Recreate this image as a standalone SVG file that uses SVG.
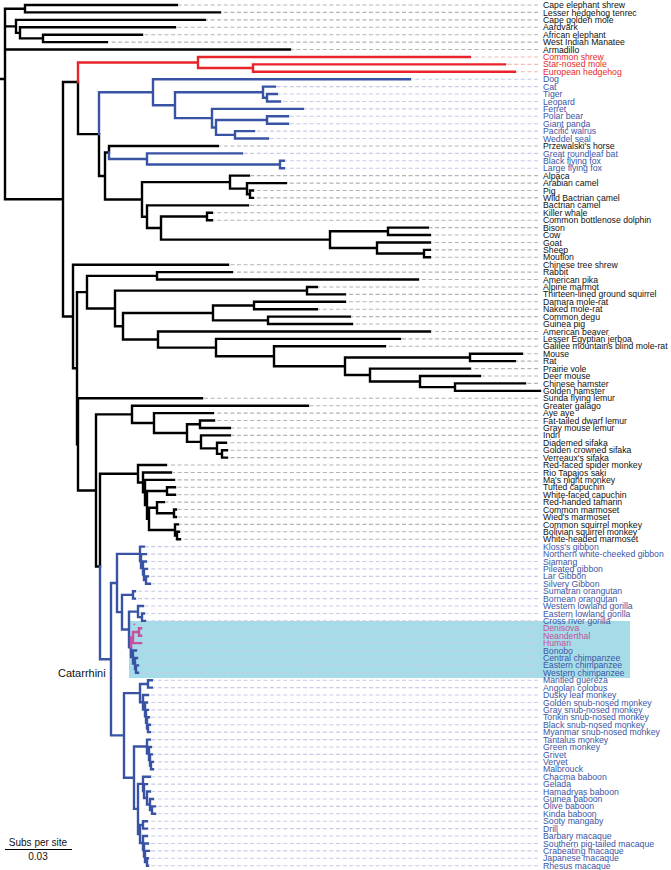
<svg xmlns="http://www.w3.org/2000/svg" width="671" height="870" viewBox="0 0 671 870">
<style>
text{font-family:"Liberation Sans",Arial,sans-serif}
.lb{font-size:8.7px}
.k{fill:#111}
.r{fill:#e32a2a}
.b{fill:#3d55a5}
.p{fill:#c2519b}
.br{fill:none;stroke-width:2.4;stroke-linecap:square}
.dash{fill:none;stroke-width:1.1;stroke-dasharray:4 2.6}
</style>
<rect id="highlight" x="129" y="621" width="501" height="57" fill="#a6dce7"/>
<g id="connectors">
<path class="dash" stroke="#b3b3b3" d="M538 5H179M538 12.42H222M538 19.84H207M538 27.26H177M538 34.68H144M538 42.1H109M538 49.52H292M538 145.98H220M538 175.66H251M538 183.08H288M538 190.5H255M538 197.92H255M538 205.34H250M538 212.76H214M538 220.18H214M538 227.6H430M538 235.02H432M538 242.44H432M538 249.86H432M538 257.28H432M538 264.7H230M538 272.12H234M538 279.54H420M538 286.96H319M538 294.38H347M538 301.8H347M538 309.22H319M538 316.64H352M538 324.06H354M538 331.48H432M538 338.9H402M538 346.32H387M538 353.74H524M538 361.16H517M538 368.58H472M538 376H482M538 383.42H527M538 398.26H204M538 405.68H310M538 413.1H215M538 420.52H216M538 427.94H232M538 435.36H232M538 442.78H228M538 450.2H229M538 457.62H229M538 465.04H168M538 472.46H173M538 479.88H176M538 487.3H177M538 494.72H177M538 502.14H166M538 509.56H178M538 516.98H178M538 524.4H180M538 531.82H181M538 539.24H182"/>
<path class="dash" stroke="#f4b8b8" d="M538 56.94H472M538 64.36H507M538 71.78H517"/>
<path class="dash" stroke="#c8cbe6" d="M538 79.2H412M538 86.62H277M538 94.04H279M538 101.46H282M538 108.88H305M538 116.3H290M538 123.72H290M538 131.14H256M538 138.56H270M538 153.4H244M538 160.82H286M538 168.24H286M538 546.66H146M538 554.08H148M538 561.5H148M538 568.92H149M538 576.34H150M538 583.76H152M538 591.18H137M538 598.6H137M538 606.02H145M538 613.44H146M538 620.86H147M538 628.28H143M538 635.7H143M538 643.12H143M538 650.54H138M538 657.96H139M538 665.38H140M538 672.8H140M538 680.22H154M538 687.64H154M538 695.06H150M538 702.48H149M538 709.9H150M538 717.32H151M538 724.74H152M538 732.16H152M538 739.58H152M538 747H153M538 754.42H154M538 761.84H155M538 769.26H155M538 776.68H152M538 784.1H149M538 791.52H152M538 798.94H155M538 806.36H157M538 813.78H157M538 821.2H149M538 828.62H149M538 836.04H149M538 843.46H150M538 850.88H151M538 858.3H150M538 865.72H150"/>
<path class="br" stroke="#000" d="M0 79H5M5 8.71V199.3M5 8.71H25M25 5V12.42M25 5H177M25 12.42H220M5 26.33H16M16 19.84V32.83M16 19.84H205M16 32.83H20M20 27.26V38.39M20 27.26H175M20 38.39H43M43 34.68V42.1M43 34.68H142M43 42.1H107M5 49.52H290M5 199.3H63M63 82V316.5M63 82H78M63 316.5H73M78 82V134.08M78 134.08H99M99 134.08V175.95M99 175.95H105M105 152.47V199.43M105 152.47H109M105 199.43H142M109 145.98V152.47M109 145.98H218M142 182.15V216.7M142 182.15H230M142 216.7H147M230 175.66V188.65M230 175.66H249M230 188.65H247M247 183.08V194.21M247 183.08H286M247 194.21H250M250 190.5V197.92M250 190.5H253M250 197.92H253M147 205.34V228.06M147 205.34H248M147 228.06H161M161 216.47V239.66M161 216.47H207M161 239.66H330M207 212.76V220.18M207 212.76H212M207 220.18H212M330 231.31V248M330 231.31H388M330 248H377M388 227.6V235.02M388 227.6H428M388 235.02H430M377 242.44V253.57M377 242.44H430M377 253.57H424M424 249.86V257.28M424 249.86H430M424 257.28H430M73 264.7V368.3M73 264.7H228M73 368.3H77M77 292.14V444.38M77 292.14H87M77 444.38H78M87 275.83V308.45M87 275.83H157M87 308.45H115M157 272.12V279.54M157 272.12H232M157 279.54H418M115 290.67V326.24M115 290.67H307M115 326.24H123M307 286.96V294.38M307 286.96H317M307 294.38H345M123 312.93V339.54M123 312.93H213M123 339.54H158M213 305.51V320.35M213 305.51H254M213 320.35H268M254 301.8V309.22M254 301.8H345M254 309.22H317M268 316.64V324.06M268 316.64H350M268 324.06H352M158 331.48V347.6M158 331.48H430M158 347.6H216M216 338.9V356.29M216 338.9H400M216 356.29H274M274 346.32V366.26M274 346.32H385M274 366.26H345M345 357.45V375.07M345 357.45H470M345 375.07H370M470 353.74V361.16M470 353.74H522M470 361.16H515M370 368.58V381.57M370 368.58H470M370 381.57H420M420 376V387.13M420 376H480M420 387.13H455M455 383.42V390.84M455 383.42H525M455 390.84H540M78 398.26V490.43M78 398.26H202M78 490.43H96M96 414.38V566.48M96 414.38H132M96 566.48H100M100 473.74V566.48M100 473.74H138M132 405.68V423.07M132 405.68H308M132 423.07H154M154 413.1V433.04M154 413.1H213M154 433.04H187M187 424.23V441.85M187 424.23H200M187 441.85H201M200 420.52V427.94M200 420.52H214M200 427.94H230M201 435.36V448.35M201 435.36H230M201 448.35H217M217 442.78V453.91M217 442.78H226M217 453.91H222M222 450.2V457.62M222 450.2H227M222 457.62H227M138 465.04V482.43M138 465.04H166M138 482.43H143M143 472.46V492.41M143 472.46H171M143 492.41H145M145 479.88V504.93M145 479.88H174M145 504.93H147M147 491.01V518.84M147 491.01H167M147 518.84H149M167 487.3V494.72M167 487.3H175M167 494.72H175M149 507.71V529.97M149 507.71H157M149 529.97H175M157 502.14V513.27M157 502.14H164M157 513.27H174M174 509.56V516.98M174 509.56H176M174 516.98H176M175 524.4V535.53M175 524.4H178M175 535.53H177M177 531.82V539.24M177 531.82H179M177 539.24H180"/>
<path class="br" stroke="#e8242a" d="M78 62.5V82M78 62.5H198M198 56.94V68.07M198 56.94H470M198 68.07H253M253 64.36V71.78M253 64.36H505M253 71.78H515"/>
<path class="br" stroke="#3953a4" d="M99 92.19V134.08M99 92.19H153M153 79.2V105.18M153 79.2H410M153 105.18H175M175 92.19V118.16M175 92.19H263M175 118.16H212M263 86.62V97.75M263 86.62H275M263 97.75H267M267 94.04V101.46M267 94.04H277M267 101.46H280M212 108.88V127.43M212 108.88H303M212 127.43H216M216 120.01V134.85M216 120.01H267M216 134.85H235M267 116.3V123.72M267 116.3H288M267 123.72H288M235 131.14V138.56M235 131.14H254M235 138.56H268M109 152.47V158.97M109 158.97H147M147 153.4V164.53M147 153.4H242M147 164.53H280M280 160.82V168.24M280 160.82H284M280 168.24H284M100 566.48V659.21M100 659.21H111M111 583.01V735.41M111 583.01H117M111 735.41H124M117 553.85V612.17M117 553.85H140M117 612.17H122M140 546.66V561.04M140 546.66H144M140 561.04H141M141 554.08V567.99M141 554.08H146M141 567.99H143M143 561.5V574.49M143 561.5H146M143 574.49H144M144 568.92V580.05M144 568.92H147M144 580.05H146M146 576.34V583.76M146 576.34H148M146 583.76H150M122 594.89V629.45M122 594.89H133M122 629.45H129M133 591.18V598.6M133 591.18H135M133 598.6H135M129 611.59V647.3M129 611.59H138M129 647.3H131M138 606.02V617.15M138 606.02H143M138 617.15H142M142 613.44V620.86M142 613.44H144M142 620.86H145M131 647.3V657.04M131 657.04H133M133 650.54V663.53M133 650.54H136M133 663.53H135M135 657.96V669.09M135 657.96H137M135 669.09H136M136 665.38V672.8M136 665.38H138M136 672.8H138M124 693.09V777.73M124 693.09H140M124 777.73H134M140 683.93V702.25M140 683.93H148M140 702.25H143M148 680.22V687.64M148 680.22H152M148 687.64H152M143 695.06V709.44M143 695.06H148M143 709.44H145M145 702.48V716.4M145 702.48H147M145 716.4H146M146 709.9V722.89M146 709.9H148M146 722.89H147M147 717.32V728.45M147 717.32H149M147 728.45H148M148 724.74V732.16M148 724.74H150M148 732.16H150M134 746.54V808.91M134 746.54H147M134 808.91H138M147 739.58V753.5M147 739.58H150M147 753.5H149M149 747V759.99M149 747H151M149 759.99H150M150 754.42V765.55M150 754.42H152M150 765.55H151M151 761.84V769.26M151 761.84H153M151 769.26H153M138 783.87V833.95M138 783.87H143M138 833.95H140M143 776.68V791.06M143 776.68H150M143 791.06H144M144 784.1V798.01M144 784.1H147M144 798.01H147M147 791.52V804.5M147 791.52H150M147 804.5H150M150 798.94V810.07M150 798.94H153M150 810.07H152M152 806.36V813.78M152 806.36H155M152 813.78H155M140 824.91V842.99M140 824.91H143M140 842.99H143M143 821.2V828.62M143 821.2H147M143 828.62H147M143 836.04V849.95M143 836.04H147M143 849.95H144M144 843.46V856.45M144 843.46H148M144 856.45H145M145 850.88V862.01M145 850.88H149M145 862.01H147M147 858.3V865.72M147 858.3H148M147 865.72H148"/>
<path class="br" stroke="#c9509e" d="M131 637.56V647.3M131 637.56H133M133 631.99V643.12M133 631.99H139M133 643.12H141M139 628.28V635.7M139 628.28H141M139 635.7H141"/>
</g>
<text x="133" y="628" font-size="7" fill="#c9509e">*</text>
<text id="clade-label" x="58" y="677" font-size="11" fill="#111">Catarrhini</text>
<g id="scale-bar">
<text x="38" y="846" font-size="10" fill="#111" text-anchor="middle">Subs per site</text>
<path d="M5 849.5H72" stroke="#000" stroke-width="1"/>
<text x="38" y="859.5" font-size="10" fill="#111" text-anchor="middle">0.03</text>
</g>
<g id="leaves" class="lb">
<g id="n0"><text class="k" x="543" y="8.1">Cape elephant shrew</text></g>
<g id="n1"><text class="k" x="543" y="15.52">Lesser hedgehog tenrec</text></g>
<g id="n2"><text class="k" x="543" y="22.94">Cape golden mole</text></g>
<g id="n3"><text class="k" x="543" y="30.36">Aardvark</text></g>
<g id="n4"><text class="k" x="543" y="37.78">African elephant</text></g>
<g id="n5"><text class="k" x="543" y="45.2">West Indian Manatee</text></g>
<g id="n6"><text class="k" x="543" y="52.62">Armadillo</text></g>
<g id="n7"><text class="r" x="543" y="60.04">Common shrew</text></g>
<g id="n8"><text class="r" x="543" y="67.46">Star-nosed mole</text></g>
<g id="n9"><text class="r" x="543" y="74.88">European hedgehog</text></g>
<g id="n10"><text class="b" x="543" y="82.3">Dog</text></g>
<g id="n11"><text class="b" x="543" y="89.72">Cat</text></g>
<g id="n12"><text class="b" x="543" y="97.14">Tiger</text></g>
<g id="n13"><text class="b" x="543" y="104.56">Leopard</text></g>
<g id="n14"><text class="b" x="543" y="111.98">Ferret</text></g>
<g id="n15"><text class="b" x="543" y="119.4">Polar bear</text></g>
<g id="n16"><text class="b" x="543" y="126.82">Giant panda</text></g>
<g id="n17"><text class="b" x="543" y="134.24">Pacific walrus</text></g>
<g id="n18"><text class="b" x="543" y="141.66">Weddel seal</text></g>
<g id="n19"><text class="k" x="543" y="149.08">Przewalski's horse</text></g>
<g id="n20"><text class="b" x="543" y="156.5">Great roundleaf bat</text></g>
<g id="n21"><text class="b" x="543" y="163.92">Black flying fox</text></g>
<g id="n22"><text class="b" x="543" y="171.34">Large flying fox</text></g>
<g id="n23"><text class="k" x="543" y="178.76">Alpaca</text></g>
<g id="n24"><text class="k" x="543" y="186.18">Arabian camel</text></g>
<g id="n25"><text class="k" x="543" y="193.6">Pig</text></g>
<g id="n26"><text class="k" x="543" y="201.02">Wild Bactrian camel</text></g>
<g id="n27"><text class="k" x="543" y="208.44">Bactrian camel</text></g>
<g id="n28"><text class="k" x="543" y="215.86">Killer whale</text></g>
<g id="n29"><text class="k" x="543" y="223.28">Common bottlenose dolphin</text></g>
<g id="n30"><text class="k" x="543" y="230.7">Bison</text></g>
<g id="n31"><text class="k" x="543" y="238.12">Cow</text></g>
<g id="n32"><text class="k" x="543" y="245.54">Goat</text></g>
<g id="n33"><text class="k" x="543" y="252.96">Sheep</text></g>
<g id="n34"><text class="k" x="543" y="260.38">Mouflon</text></g>
<g id="n35"><text class="k" x="543" y="267.8">Chinese tree shrew</text></g>
<g id="n36"><text class="k" x="543" y="275.22">Rabbit</text></g>
<g id="n37"><text class="k" x="543" y="282.64">American pika</text></g>
<g id="n38"><text class="k" x="543" y="290.06">Alpine marmot</text></g>
<g id="n39"><text class="k" x="543" y="297.48">Thirteen-lined ground squirrel</text></g>
<g id="n40"><text class="k" x="543" y="304.9">Damara mole-rat</text></g>
<g id="n41"><text class="k" x="543" y="312.32">Naked mole-rat</text></g>
<g id="n42"><text class="k" x="543" y="319.74">Common degu</text></g>
<g id="n43"><text class="k" x="543" y="327.16">Guinea pig</text></g>
<g id="n44"><text class="k" x="543" y="334.58">American beaver</text></g>
<g id="n45"><text class="k" x="543" y="342">Lesser Egyptian jerboa</text></g>
<g id="n46"><text class="k" x="543" y="349.42">Galilee mountains blind mole-rat</text></g>
<g id="n47"><text class="k" x="543" y="356.84">Mouse</text></g>
<g id="n48"><text class="k" x="543" y="364.26">Rat</text></g>
<g id="n49"><text class="k" x="543" y="371.68">Prairie vole</text></g>
<g id="n50"><text class="k" x="543" y="379.1">Deer mouse</text></g>
<g id="n51"><text class="k" x="543" y="386.52">Chinese hamster</text></g>
<g id="n52"><text class="k" x="543" y="393.94">Golden hamster</text></g>
<g id="n53"><text class="k" x="543" y="401.36">Sunda flying lemur</text></g>
<g id="n54"><text class="k" x="543" y="408.78">Greater galago</text></g>
<g id="n55"><text class="k" x="543" y="416.2">Aye aye</text></g>
<g id="n56"><text class="k" x="543" y="423.62">Fat-tailed dwarf lemur</text></g>
<g id="n57"><text class="k" x="543" y="431.04">Gray mouse lemur</text></g>
<g id="n58"><text class="k" x="543" y="438.46">Indri</text></g>
<g id="n59"><text class="k" x="543" y="445.88">Diademed sifaka</text></g>
<g id="n60"><text class="k" x="543" y="453.3">Golden crowned sifaka</text></g>
<g id="n61"><text class="k" x="543" y="460.72">Verreaux's sifaka</text></g>
<g id="n62"><text class="k" x="543" y="468.14">Red-faced spider monkey</text></g>
<g id="n63"><text class="k" x="543" y="475.56">Rio Tapajos saki</text></g>
<g id="n64"><text class="k" x="543" y="482.98">Ma's night monkey</text></g>
<g id="n65"><text class="k" x="543" y="490.4">Tufted capuchin</text></g>
<g id="n66"><text class="k" x="543" y="497.82">White-faced capuchin</text></g>
<g id="n67"><text class="k" x="543" y="505.24">Red-handed tamarin</text></g>
<g id="n68"><text class="k" x="543" y="512.66">Common marmoset</text></g>
<g id="n69"><text class="k" x="543" y="520.08">Wied's marmoset</text></g>
<g id="n70"><text class="k" x="543" y="527.5">Common squirrel monkey</text></g>
<g id="n71"><text class="k" x="543" y="534.92">Bolivian squirrel monkey</text></g>
<g id="n72"><text class="k" x="543" y="542.34">White-headed marmoset</text></g>
<g id="n73"><text class="b" x="543" y="549.76">Kloss's gibbon</text></g>
<g id="n74"><text class="b" x="543" y="557.18">Northern white-cheeked gibbon</text></g>
<g id="n75"><text class="b" x="543" y="564.6">Siamang</text></g>
<g id="n76"><text class="b" x="543" y="572.02">Pileated gibbon</text></g>
<g id="n77"><text class="b" x="543" y="579.44">Lar Gibbon</text></g>
<g id="n78"><text class="b" x="543" y="586.86">Silvery Gibbon</text></g>
<g id="n79"><text class="b" x="543" y="594.28">Sumatran orangutan</text></g>
<g id="n80"><text class="b" x="543" y="601.7">Bornean orangutan</text></g>
<g id="n81"><text class="b" x="543" y="609.12">Western lowland gorilla</text></g>
<g id="n82"><text class="b" x="543" y="616.54">Eastern lowland gorilla</text></g>
<g id="n83"><text class="b" x="543" y="623.96">Cross river gorilla</text></g>
<g id="n84"><text class="p" x="543" y="631.38">Denisova</text></g>
<g id="n85"><text class="p" x="543" y="638.8">Neanderthal</text></g>
<g id="n86"><text class="p" x="543" y="646.22">Human</text></g>
<g id="n87"><text class="b" x="543" y="653.64">Bonobo</text></g>
<g id="n88"><text class="b" x="543" y="661.06">Central chimpanzee</text></g>
<g id="n89"><text class="b" x="543" y="668.48">Eastern chimpanzee</text></g>
<g id="n90"><text class="b" x="543" y="675.9">Western chimpanzee</text></g>
<g id="n91"><text class="b" x="543" y="683.32">Mantled guereza</text></g>
<g id="n92"><text class="b" x="543" y="690.74">Angolan colobus</text></g>
<g id="n93"><text class="b" x="543" y="698.16">Dusky leaf monkey</text></g>
<g id="n94"><text class="b" x="543" y="705.58">Golden snub-nosed monkey</text></g>
<g id="n95"><text class="b" x="543" y="713">Gray snub-nosed monkey</text></g>
<g id="n96"><text class="b" x="543" y="720.42">Tonkin snub-nosed monkey</text></g>
<g id="n97"><text class="b" x="543" y="727.84">Black snub-nosed monkey</text></g>
<g id="n98"><text class="b" x="543" y="735.26">Myanmar snub-nosed monkey</text></g>
<g id="n99"><text class="b" x="543" y="742.68">Tantalus monkey</text></g>
<g id="n100"><text class="b" x="543" y="750.1">Green monkey</text></g>
<g id="n101"><text class="b" x="543" y="757.52">Grivet</text></g>
<g id="n102"><text class="b" x="543" y="764.94">Vervet</text></g>
<g id="n103"><text class="b" x="543" y="772.36">Malbrouck</text></g>
<g id="n104"><text class="b" x="543" y="779.78">Chacma baboon</text></g>
<g id="n105"><text class="b" x="543" y="787.2">Gelada</text></g>
<g id="n106"><text class="b" x="543" y="794.62">Hamadryas baboon</text></g>
<g id="n107"><text class="b" x="543" y="802.04">Guinea baboon</text></g>
<g id="n108"><text class="b" x="543" y="809.46">Olive baboon</text></g>
<g id="n109"><text class="b" x="543" y="816.88">Kinda baboon</text></g>
<g id="n110"><text class="b" x="543" y="824.3">Sooty mangaby</text></g>
<g id="n111"><text class="b" x="543" y="831.72">Drill</text></g>
<g id="n112"><text class="b" x="543" y="839.14">Barbary macaque</text></g>
<g id="n113"><text class="b" x="543" y="846.56">Southern pig-tailed macaque</text></g>
<g id="n114"><text class="b" x="543" y="853.98">Crabeating macaque</text></g>
<g id="n115"><text class="b" x="543" y="861.4">Japanese macaque</text></g>
<g id="n116"><text class="b" x="543" y="868.82">Rhesus macaque</text></g>
</g>
</svg>
